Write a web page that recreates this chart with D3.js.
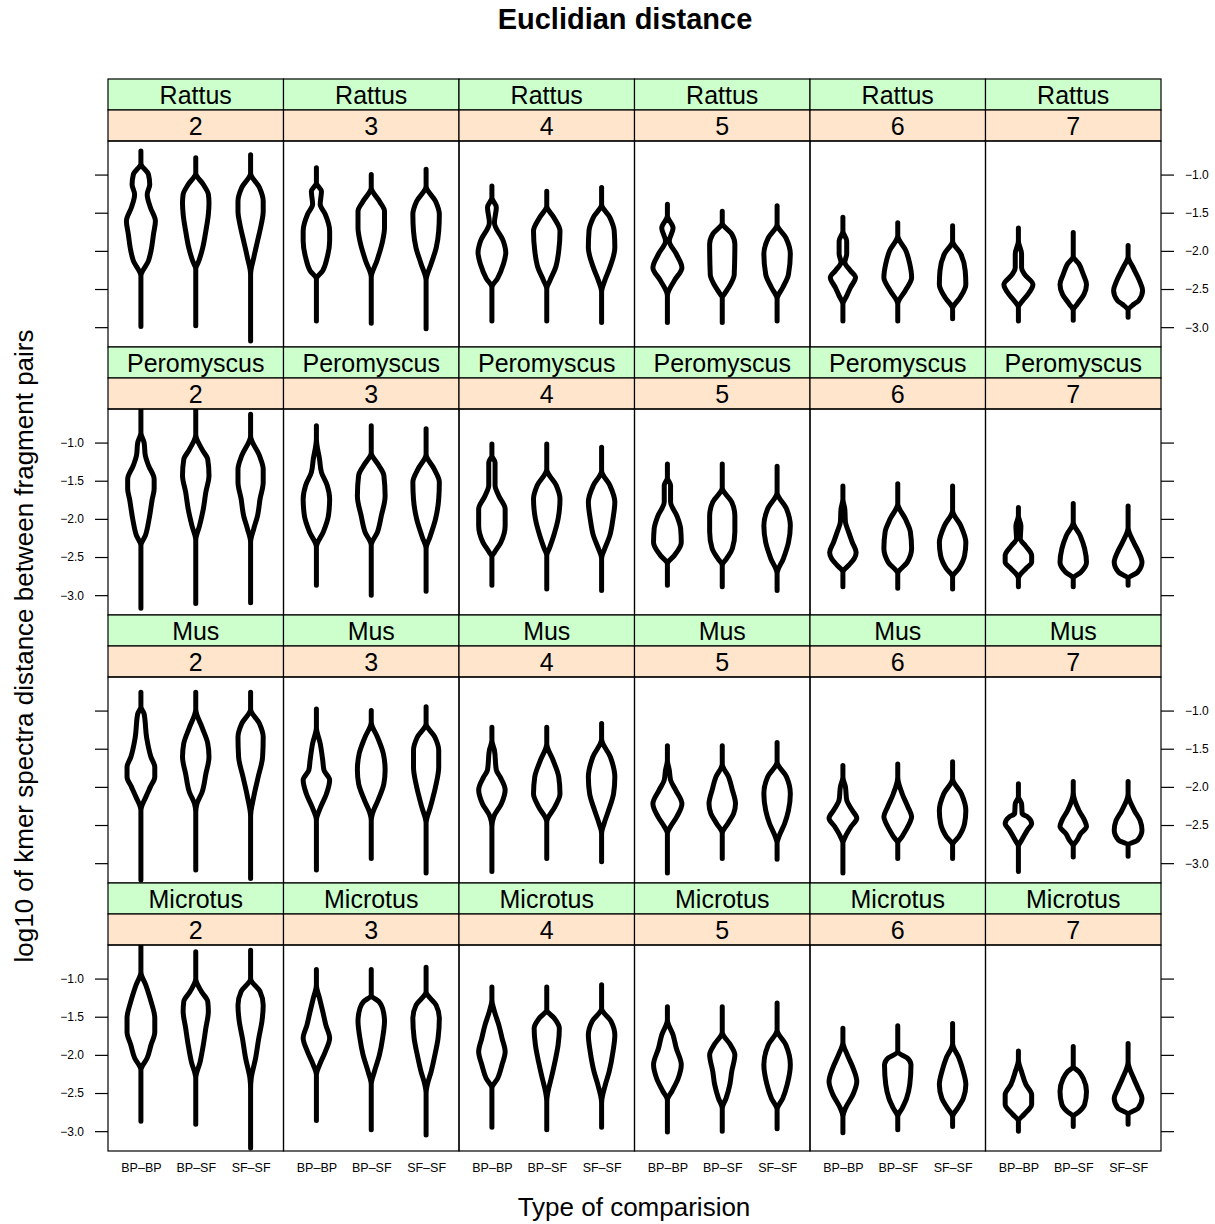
<!DOCTYPE html>
<html>
<head>
<meta charset="utf-8">
<script src="https://cdn.jsdelivr.net/npm/d3@7"></script>
<style>
  body { margin: 0; background: #fff; }
  svg { font-family: "Liberation Sans", Arial, sans-serif; }
</style>
</head>
<body>
<div id="chart"></div>
<script>
const species = ["Rattus", "Peromyscus", "Mus", "Microtus"];
const kValues = ["2", "3", "4", "5", "6", "7"];
const comparisons = ["BP–BP", "BP–SF", "SF–SF"];
const yTicks = [-1.0, -1.5, -2.0, -2.5, -3.0];

// violin outlines: [log10 distance, half width in category units]
const rattusViolins = [
  [
    [[-0.69,0],[-0.85,0],[-1.0,.12],[-1.13,.14],[-1.26,.10],[-1.43,.15],[-1.61,.23],[-1.78,.20],[-2.0,.16],[-2.13,.12],[-2.33,0],[-2.99,0]],
    [[-0.78,0],[-0.98,0],[-1.13,.12],[-1.26,.20],[-1.37,.21],[-1.52,.20],[-1.74,.16],[-1.96,.11],[-2.13,.05],[-2.24,0],[-2.98,0]],
    [[-0.74,0],[-0.98,0],[-1.17,.14],[-1.35,.20],[-1.48,.20],[-1.65,.17],[-1.87,.11],[-2.09,.05],[-2.31,0],[-3.18,0]]
  ],
  [
    [[-0.91,0],[-1.11,0],[-1.22,.08],[-1.39,.06],[-1.52,.14],[-1.74,.21],[-1.87,.21],[-2.09,.17],[-2.26,.10],[-2.37,0],[-2.92,0]],
    [[-1.0,0],[-1.17,0],[-1.35,.13],[-1.48,.21],[-1.70,.21],[-1.87,.18],[-2.13,.09],[-2.35,0],[-2.95,0]],
    [[-0.93,0],[-1.15,0],[-1.35,.15],[-1.52,.21],[-1.74,.20],[-1.96,.16],[-2.17,.08],[-2.39,0],[-3.02,0]]
  ],
  [
    [[-1.15,0],[-1.30,0],[-1.43,.07],[-1.63,.04],[-1.87,.18],[-2.02,.22],[-2.18,.18],[-2.36,.09],[-2.48,0],[-2.92,0]],
    [[-1.22,0],[-1.41,0],[-1.56,.11],[-1.74,.21],[-2.0,.19],[-2.22,.14],[-2.39,.05],[-2.50,0],[-2.92,0]],
    [[-1.17,0],[-1.39,0],[-1.56,.13],[-1.74,.20],[-1.96,.21],[-2.22,.13],[-2.39,.05],[-2.54,0],[-2.94,0]]
  ],
  [
    [[-1.39,0],[-1.54,0],[-1.70,.09],[-1.87,.03],[-2.04,.14],[-2.22,.23],[-2.39,.11],[-2.59,0],[-2.94,0]],
    [[-1.48,0],[-1.63,0],[-1.78,.15],[-1.91,.20],[-2.31,.19],[-2.44,.13],[-2.57,.03],[-2.61,0],[-2.94,0]],
    [[-1.41,0],[-1.65,0],[-1.83,.14],[-2.04,.21],[-2.31,.18],[-2.48,.09],[-2.63,0],[-2.92,0]]
  ],
  [
    [[-1.56,0],[-1.74,0],[-1.87,.06],[-2.04,.06],[-2.15,.03],[-2.26,.12],[-2.35,.20],[-2.48,.12],[-2.59,.06],[-2.70,0],[-2.92,0]],
    [[-1.63,0],[-1.80,0],[-2.0,.13],[-2.17,.19],[-2.35,.22],[-2.52,.12],[-2.70,0],[-2.92,0]],
    [[-1.67,0],[-1.87,0],[-2.04,.13],[-2.26,.20],[-2.44,.21],[-2.61,.12],[-2.76,0],[-2.89,0]]
  ],
  [
    [[-1.70,0],[-1.87,0],[-2.04,.05],[-2.22,.05],[-2.31,.10],[-2.44,.23],[-2.57,.15],[-2.65,.07],[-2.74,0],[-2.92,0]],
    [[-1.76,0],[-2.07,0],[-2.17,.09],[-2.31,.16],[-2.44,.21],[-2.57,.17],[-2.70,.06],[-2.78,0],[-2.91,0]],
    [[-1.93,0],[-2.07,0],[-2.22,.08],[-2.39,.18],[-2.52,.23],[-2.65,.17],[-2.70,.09],[-2.78,0],[-2.87,0]]
  ]
];

const peromyscusViolins = [
  [
    [[-0.55,0],[-0.87,0],[-1.0,.05],[-1.17,.07],[-1.30,.12],[-1.48,.21],[-1.61,.21],[-1.74,.18],[-2.0,.13],[-2.22,.07],[-2.35,0],[-3.17,0]],
    [[-0.55,0],[-0.89,0],[-1.09,.10],[-1.22,.19],[-1.43,.21],[-1.65,.16],[-1.87,.12],[-2.09,.06],[-2.28,0],[-3.11,0]],
    [[-0.63,0],[-0.91,0],[-1.17,.14],[-1.35,.20],[-1.52,.20],[-1.74,.15],[-1.96,.11],[-2.13,.05],[-2.31,0],[-3.10,0]]
  ],
  [
    [[-0.78,0],[-0.95,0],[-1.22,.05],[-1.39,.08],[-1.56,.17],[-1.74,.21],[-1.96,.19],[-2.17,.11],[-2.37,0],[-2.87,0]],
    [[-0.78,0],[-1.13,0],[-1.30,.12],[-1.43,.20],[-1.70,.22],[-1.96,.16],[-2.17,.10],[-2.35,0],[-3.0,0]],
    [[-0.82,0],[-1.15,0],[-1.35,.13],[-1.52,.21],[-1.74,.20],[-2.0,.15],[-2.24,.06],[-2.39,0],[-2.95,0]]
  ],
  [
    [[-1.02,0],[-1.17,0],[-1.26,.05],[-1.56,.05],[-1.70,.11],[-1.87,.21],[-2.09,.21],[-2.31,.14],[-2.44,.04],[-2.50,0],[-2.87,0]],
    [[-1.02,0],[-1.35,0],[-1.56,.15],[-1.74,.21],[-2.0,.18],[-2.22,.11],[-2.39,.04],[-2.48,0],[-2.92,0]],
    [[-1.06,0],[-1.37,0],[-1.56,.13],[-1.78,.21],[-2.0,.18],[-2.22,.13],[-2.39,.05],[-2.52,0],[-2.94,0]]
  ],
  [
    [[-1.28,0],[-1.46,0],[-1.56,.05],[-1.78,.05],[-1.96,.15],[-2.13,.21],[-2.31,.22],[-2.48,.11],[-2.59,0],[-2.87,0]],
    [[-1.28,0],[-1.59,0],[-1.78,.15],[-1.96,.20],[-2.17,.20],[-2.39,.16],[-2.52,.07],[-2.61,0],[-2.89,0]],
    [[-1.31,0],[-1.65,0],[-1.87,.15],[-2.09,.21],[-2.31,.18],[-2.52,.10],[-2.72,0],[-2.94,0]]
  ],
  [
    [[-1.57,0],[-1.74,0],[-1.87,.03],[-2.04,.04],[-2.17,.09],[-2.31,.15],[-2.44,.21],[-2.52,.18],[-2.61,.09],[-2.70,0],[-2.89,0]],
    [[-1.54,0],[-1.80,0],[-2.0,.12],[-2.17,.20],[-2.39,.22],[-2.57,.15],[-2.72,0],[-2.91,0]],
    [[-1.57,0],[-1.89,0],[-2.09,.13],[-2.31,.21],[-2.48,.19],[-2.65,.10],[-2.76,0],[-2.92,0]]
  ],
  [
    [[-1.85,0],[-1.96,0],[-2.09,.04],[-2.26,.03],[-2.35,.11],[-2.48,.21],[-2.57,.21],[-2.65,.12],[-2.74,.02],[-2.78,0],[-2.89,0]],
    [[-1.80,0],[-2.04,0],[-2.22,.11],[-2.39,.18],[-2.57,.21],[-2.70,.12],[-2.78,0],[-2.89,0]],
    [[-1.83,0],[-2.11,0],[-2.31,.09],[-2.44,.17],[-2.57,.22],[-2.70,.15],[-2.78,0],[-2.87,0]]
  ]
];

const musViolins = [
  [
    [[-0.76,0],[-0.95,0],[-1.04,.05],[-1.35,.09],[-1.61,.16],[-1.74,.22],[-1.87,.22],[-2.0,.15],[-2.13,.08],[-2.31,0],[-3.22,0]],
    [[-0.76,0],[-0.98,0],[-1.22,.10],[-1.43,.19],[-1.61,.21],[-1.83,.16],[-2.07,.10],[-2.22,.02],[-2.33,0],[-3.09,0]],
    [[-0.76,0],[-0.98,0],[-1.17,.14],[-1.35,.20],[-1.61,.19],[-1.87,.12],[-2.13,.05],[-2.39,0],[-3.20,0]]
  ],
  [
    [[-0.98,0],[-1.22,0],[-1.43,.06],[-1.65,.10],[-1.78,.12],[-1.91,.21],[-2.09,.16],[-2.26,.07],[-2.44,0],[-3.09,0]],
    [[-1.0,0],[-1.15,0],[-1.35,.10],[-1.56,.19],[-1.78,.22],[-1.96,.20],[-2.17,.11],[-2.35,.02],[-2.44,0],[-2.94,0]],
    [[-0.95,0],[-1.17,0],[-1.35,.14],[-1.52,.20],[-1.74,.20],[-2.0,.15],[-2.26,.07],[-2.48,0],[-3.13,0]]
  ],
  [
    [[-1.22,0],[-1.39,0],[-1.52,.04],[-1.78,.07],[-1.87,.13],[-2.04,.21],[-2.22,.15],[-2.39,.03],[-2.52,0],[-3.11,0]],
    [[-1.22,0],[-1.43,0],[-1.65,.10],[-1.87,.19],[-2.09,.21],[-2.26,.13],[-2.46,0],[-2.94,0]],
    [[-1.17,0],[-1.37,0],[-1.61,.14],[-1.87,.21],[-2.09,.19],[-2.31,.11],[-2.48,.04],[-2.61,0],[-2.98,0]]
  ],
  [
    [[-1.46,0],[-1.65,0],[-1.78,.03],[-1.91,.05],[-2.04,.13],[-2.22,.23],[-2.39,.15],[-2.52,.05],[-2.61,0],[-3.13,0]],
    [[-1.46,0],[-1.70,0],[-1.87,.10],[-2.04,.16],[-2.22,.21],[-2.35,.18],[-2.48,.09],[-2.61,0],[-2.94,0]],
    [[-1.42,0],[-1.67,0],[-1.87,.15],[-2.09,.21],[-2.31,.18],[-2.48,.12],[-2.65,.03],[-2.74,0],[-2.95,0]]
  ],
  [
    [[-1.72,0],[-1.87,0],[-2.0,.04],[-2.17,.06],[-2.31,.15],[-2.41,.22],[-2.52,.13],[-2.65,.04],[-2.74,0],[-3.13,0]],
    [[-1.70,0],[-1.87,0],[-2.09,.07],[-2.26,.16],[-2.39,.22],[-2.52,.16],[-2.65,.07],[-2.74,0],[-2.94,0]],
    [[-1.67,0],[-1.89,0],[-2.09,.14],[-2.31,.21],[-2.48,.19],[-2.65,.10],[-2.76,0],[-2.94,0]]
  ],
  [
    [[-1.96,0],[-2.13,0],[-2.22,.05],[-2.35,.06],[-2.39,.14],[-2.48,.21],[-2.57,.14],[-2.70,.05],[-2.78,0],[-3.11,0]],
    [[-1.93,0],[-2.07,0],[-2.31,.09],[-2.44,.18],[-2.52,.21],[-2.61,.12],[-2.70,.06],[-2.78,0],[-2.92,0]],
    [[-1.93,0],[-2.09,0],[-2.31,.10],[-2.44,.19],[-2.57,.22],[-2.70,.15],[-2.76,0],[-2.91,0]]
  ]
];

const microtusViolins = [
  [
    [[-0.55,0],[-0.91,0],[-1.09,.08],[-1.30,.16],[-1.52,.22],[-1.70,.22],[-1.87,.16],[-2.04,.10],[-2.20,0],[-2.87,0]],
    [[-0.65,0],[-1.0,0],[-1.17,.09],[-1.30,.19],[-1.43,.20],[-1.65,.16],[-1.87,.12],[-2.09,.07],[-2.31,0],[-2.91,0]],
    [[-0.63,0],[-1.0,0],[-1.17,.15],[-1.35,.20],[-1.56,.18],[-1.78,.13],[-2.04,.08],[-2.31,.01],[-2.44,0],[-3.22,0]]
  ],
  [
    [[-0.88,0],[-1.08,0],[-1.26,.05],[-1.43,.10],[-1.61,.15],[-1.78,.21],[-1.96,.14],[-2.13,.05],[-2.26,0],[-2.86,0]],
    [[-0.88,0],[-1.22,0],[-1.30,.12],[-1.39,.18],[-1.56,.21],[-1.78,.18],[-2.0,.13],[-2.22,.05],[-2.39,0],[-2.98,0]],
    [[-0.85,0],[-1.17,0],[-1.35,.16],[-1.52,.21],[-1.78,.19],[-2.0,.14],[-2.22,.08],[-2.39,.02],[-2.50,0],[-3.05,0]]
  ],
  [
    [[-1.11,0],[-1.28,0],[-1.43,.04],[-1.61,.11],[-1.78,.16],[-1.96,.21],[-2.13,.16],[-2.31,.09],[-2.44,0],[-2.95,0]],
    [[-1.11,0],[-1.41,0],[-1.52,.12],[-1.65,.20],[-1.87,.18],[-2.09,.13],[-2.31,.07],[-2.48,.02],[-2.61,0],[-2.98,0]],
    [[-1.08,0],[-1.39,0],[-1.56,.15],[-1.74,.21],[-1.96,.18],[-2.22,.12],[-2.39,.06],[-2.63,0],[-2.95,0]]
  ],
  [
    [[-1.37,0],[-1.54,0],[-1.74,.09],[-1.91,.14],[-2.13,.22],[-2.31,.17],[-2.48,.07],[-2.59,0],[-3.01,0]],
    [[-1.37,0],[-1.70,0],[-1.87,.13],[-2.0,.20],[-2.22,.15],[-2.39,.12],[-2.57,.06],[-2.70,0],[-3.0,0]],
    [[-1.32,0],[-1.67,0],[-1.87,.14],[-2.13,.21],[-2.39,.16],[-2.57,.09],[-2.72,0],[-2.97,0]]
  ],
  [
    [[-1.65,0],[-1.83,0],[-2.0,.07],[-2.17,.16],[-2.35,.22],[-2.52,.16],[-2.70,.04],[-2.81,0],[-3.02,0]],
    [[-1.62,0],[-1.96,0],[-2.04,.15],[-2.13,.21],[-2.39,.19],[-2.57,.14],[-2.70,.07],[-2.81,0],[-2.98,0]],
    [[-1.59,0],[-1.85,0],[-2.04,.10],[-2.22,.17],[-2.39,.21],[-2.57,.17],[-2.70,.08],[-2.81,0],[-2.94,0]]
  ],
  [
    [[-1.95,0],[-2.07,0],[-2.22,.05],[-2.39,.12],[-2.52,.21],[-2.65,.21],[-2.78,.09],[-2.87,0],[-3.0,0]],
    [[-1.89,0],[-2.15,0],[-2.22,.09],[-2.31,.16],[-2.48,.21],[-2.65,.18],[-2.74,.10],[-2.81,0],[-2.94,0]],
    [[-1.85,0],[-2.09,0],[-2.31,.09],[-2.44,.16],[-2.57,.22],[-2.70,.16],[-2.78,0],[-2.91,0]]
  ]
];

const violinsBySpecies = [rattusViolins, peromyscusViolins, musViolins, microtusViolins];

const W = 1215, H = 1224;
const plotLeft = 108, plotTop = 79;
const colW = 175.5, stripH = 31, panelH = 206;
const rowH = 2 * stripH + panelH;
const nCols = kValues.length;
const plotRight = plotLeft + nCols * colW;
const violinScale = 1.15; // drawn half width per unit of the outline arrays

const svg = d3.select('#chart').append('svg')
  .attr('width', W)
  .attr('height', H);

svg.append('text')
  .attr('x', 625).attr('y', 29)
  .attr('text-anchor', 'middle')
  .style('font-size', '29px').style('font-weight', 'bold')
  .text('Euclidian distance');

svg.append('text')
  .attr('transform', `translate(33,646) rotate(-90)`)
  .attr('text-anchor', 'middle')
  .style('font-size', '26px')
  .text('log10 of kmer spectra distance between fragment pairs');

svg.append('text')
  .attr('x', 634).attr('y', 1216)
  .attr('text-anchor', 'middle')
  .style('font-size', '26px')
  .text('Type of comparision');

const area = d3.area()
  .curve(d3.curveMonotoneY);

species.forEach((sp, r) => {
  const rowTop = plotTop + r * rowH;
  const pTop = rowTop + 2 * stripH;
  const y = d3.scaleLinear().domain([-3.26, -0.56]).range([pTop + panelH, pTop]);
  const labelsLeft = r % 2 === 1;

  kValues.forEach((k, c) => {
    const x0 = plotLeft + c * colW;
    const x = d3.scaleLinear().domain([0.4, 3.6]).range([x0, x0 + colW]);
    const unit = (x(1) - x(0)) * violinScale;

    // strips: species (green) on top, k (orange) next to the panel
    svg.append('rect')
      .attr('x', x0).attr('y', rowTop).attr('width', colW).attr('height', stripH)
      .attr('fill', '#ccffcc').attr('stroke', '#000').attr('stroke-width', 1.2);
    svg.append('text')
      .attr('x', x0 + colW / 2).attr('y', rowTop + 24.5)
      .attr('text-anchor', 'middle').style('font-size', '25px')
      .text(sp);
    svg.append('rect')
      .attr('x', x0).attr('y', rowTop + stripH).attr('width', colW).attr('height', stripH)
      .attr('fill', '#ffe5cc').attr('stroke', '#000').attr('stroke-width', 1.2);
    svg.append('text')
      .attr('x', x0 + colW / 2).attr('y', rowTop + stripH + 24.5)
      .attr('text-anchor', 'middle').style('font-size', '25px')
      .text(k);

    const clipId = `clip-${r}-${c}`;
    svg.append('clipPath').attr('id', clipId)
      .append('rect').attr('x', x0).attr('y', pTop).attr('width', colW).attr('height', panelH);

    const g = svg.append('g').attr('clip-path', `url(#${clipId})`);
    violinsBySpecies[r][c].forEach((knots, i) => {
      const cx = x(i + 1);
      area.y(d => y(d[0]))
        .x0(d => cx - d[1] * unit)
        .x1(d => cx + d[1] * unit);
      g.append('path')
        .attr('d', area(knots))
        .attr('fill', 'none')
        .attr('stroke', '#000')
        .attr('stroke-width', 5)
        .attr('stroke-linejoin', 'round')
        .attr('stroke-linecap', 'round');
    });

    svg.append('rect')
      .attr('x', x0).attr('y', pTop).attr('width', colW).attr('height', panelH)
      .attr('fill', 'none').attr('stroke', '#000').attr('stroke-width', 1.2);

    if (r === species.length - 1) {
      const xAxis = svg.append('g')
        .attr('transform', `translate(0,${pTop + panelH})`)
        .call(d3.axisBottom(x).tickValues([1, 2, 3])
          .tickFormat(d => comparisons[d - 1]).tickSize(0).tickPadding(12.5));
      xAxis.select('.domain').remove();
      xAxis.selectAll('text').style('font-size', '12.5px')
        .style('font-family', '"Liberation Sans", Arial, sans-serif');
    }
  });

  const fmt = d3.format('.1f');
  const leftAxis = svg.append('g')
    .attr('transform', `translate(${plotLeft},0)`)
    .call(d3.axisLeft(y).tickValues(yTicks).tickSize(13).tickPadding(11)
      .tickFormat(labelsLeft ? fmt : () => ''));
  const rightAxis = svg.append('g')
    .attr('transform', `translate(${plotRight},0)`)
    .call(d3.axisRight(y).tickValues(yTicks).tickSize(13).tickPadding(11)
      .tickFormat(labelsLeft ? () => '' : fmt));
  [leftAxis, rightAxis].forEach(a => {
    a.select('.domain').remove();
    a.selectAll('line').attr('stroke-width', 1.2);
    a.selectAll('text').style('font-size', '12px')
      .style('font-family', '"Liberation Sans", Arial, sans-serif');
  });
});
</script>
</body>
</html>
